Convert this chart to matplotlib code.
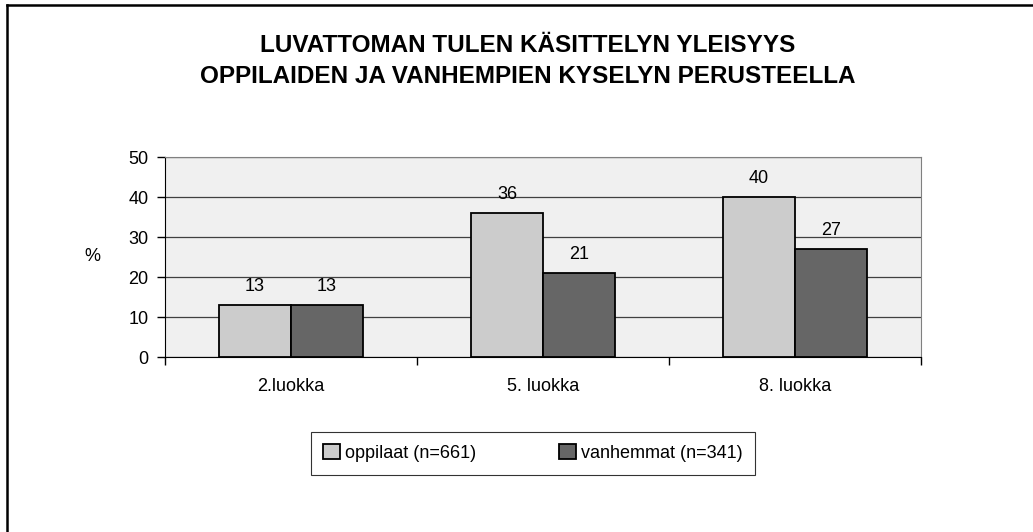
import matplotlib

matplotlib.use("Agg")
import matplotlib.pyplot as plt
from matplotlib.lines import Line2D
import numpy as np

plt.rcParams["font.family"] = ["Liberation Sans", "DejaVu Sans"]

CATEGORIES = ["2.luokka", "5. luokka", "8. luokka"]
PUPILS = [13, 36, 40]
PARENTS = [13, 21, 27]
SERIES_LABELS = ["oppilaat (n=661)", "vanhemmat (n=341)"]
Y_TICKS = [0, 10, 20, 30, 40, 50]
TITLE = "LUVATTOMAN TULEN KÄSITTELYN YLEISYYS\nOPPILAIDEN JA VANHEMPIEN KYSELYN PERUSTEELLA"

W, H = 1033, 532
FS = 13
fig = plt.figure(figsize=(W / 100, H / 100), dpi=100)
ax = fig.add_axes([165 / W, 1 - 357 / H, (921 - 165) / W, 200 / H])
ax.set_facecolor("#f0f0f0")

x = np.arange(len(CATEGORIES))
bw = 0.286
b1 = ax.bar(x - bw / 2, PUPILS, bw, color="#cccccc", edgecolor="black", linewidth=1.3,
            label=SERIES_LABELS[0], zorder=3)
b2 = ax.bar(x + bw / 2, PARENTS, bw, color="#666666", edgecolor="black", linewidth=1.3,
            label=SERIES_LABELS[1], zorder=3)
for bars in (b1, b2):
    for r in bars:
        ax.annotate(f"{r.get_height():.0f}", (r.get_x() + r.get_width() / 2, r.get_height()),
                    xytext=(0, 7), textcoords="offset points", ha="center", va="bottom",
                    fontsize=FS)

ax.set_xlim(-0.5, 2.5)
ax.set_ylim(0, 50)
ax.set_yticks(Y_TICKS)
ax.yaxis.grid(True, color="#404040", linewidth=0.9, zorder=0)
ax.set_axisbelow(True)

ax.set_xticks(x)
ax.set_xticklabels(CATEGORIES, fontsize=FS)
ax.tick_params(axis="x", which="major", length=0, pad=15)
ax.set_xticks([-0.5, 0.5, 1.5, 2.5], minor=True)
ax.tick_params(axis="x", which="minor", length=6, width=1, direction="out")
ax.tick_params(axis="y", labelsize=FS, length=6, width=1, direction="out", pad=6)

ax.spines["left"].set_color("black")
ax.spines["bottom"].set_color("black")
ax.spines["top"].set_color("#808080")
ax.spines["right"].set_color("#808080")

fig.text(92 / W, 1 - 257 / H, "%", fontsize=FS, ha="center", va="center")
fig.text(528 / W, 1 - 61 / H, TITLE, fontsize=17.5, fontweight="bold", ha="center",
         va="center", linespacing=1.4)

leg = fig.legend(handles=[b1, b2], loc="center", bbox_to_anchor=(533 / W, 1 - 453 / H),
                 ncol=2, fontsize=FS, frameon=True, fancybox=False, handlelength=0.9,
                 handleheight=0.9, handletextpad=0.3, columnspacing=4.6,
                 borderpad=0.7)
leg.get_frame().set_edgecolor("black")
leg.get_frame().set_linewidth(0.8)

fig.add_artist(Line2D([7 / W, 1], [1 - 5 / H, 1 - 5 / H], color="black", linewidth=1.8))
fig.add_artist(Line2D([7 / W, 7 / W], [0, 1 - 5 / H], color="black", linewidth=1.8))

fig.savefig("out.png", dpi=100)
